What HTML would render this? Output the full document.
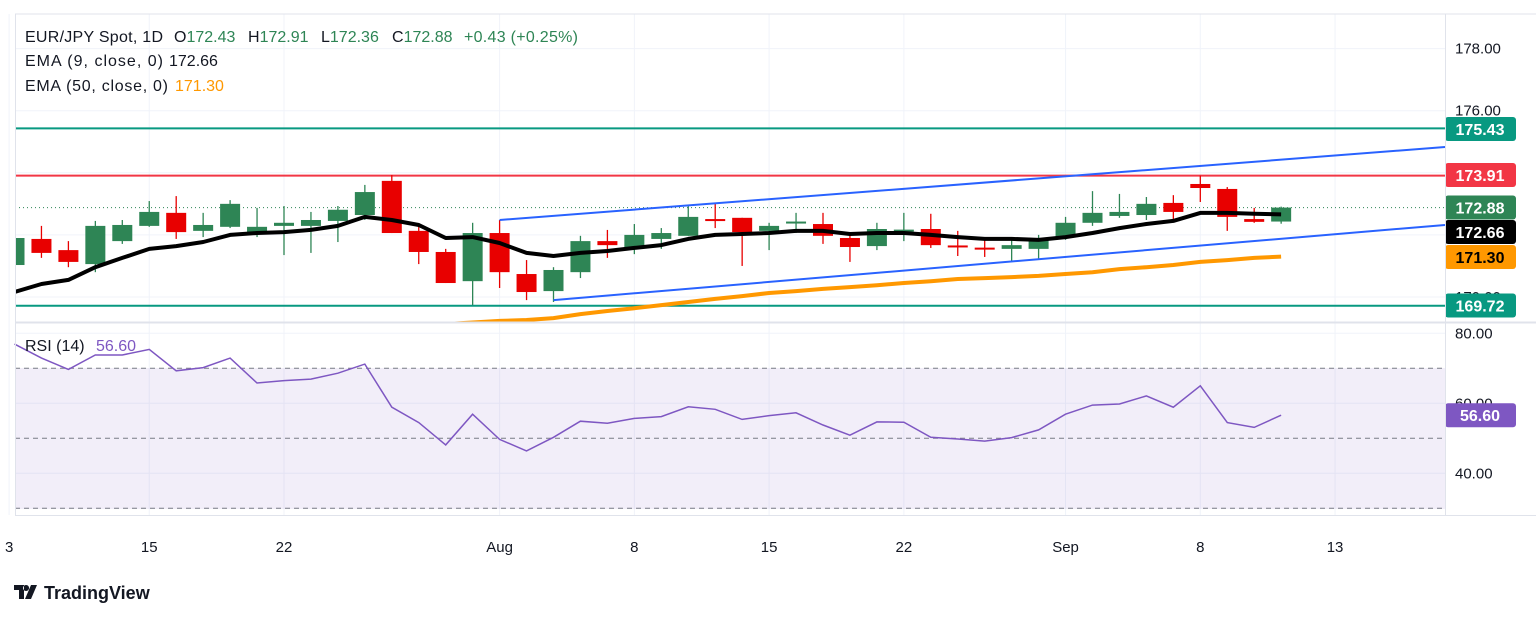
<!DOCTYPE html>
<html><head><meta charset="utf-8">
<style>
body{margin:0;background:#fff;font-family:"Liberation Sans",sans-serif;}
svg{display:block}
text{font-family:"Liberation Sans",sans-serif}
</style></head>
<body>
<svg id="c" width="1536" height="617" viewBox="0 0 1536 617">
<defs><clipPath id="pc"><rect x="16" y="14" width="1429" height="308"/></clipPath></defs>
<rect x="0" y="0" width="1536" height="617" fill="#fff"/>
<g id="grid"></g>
<rect x="15" y="368" width="1430" height="141" fill="#7e57c2" fill-opacity="0.1"/>
<g id="levels"></g>
<g id="candles" clip-path="url(#pc)"></g>
<g id="lines"></g>
<g id="rsi"></g>
<g id="axis"></g>
<line x1="15" y1="14" x2="1536" y2="14" stroke="#e0e3eb"/>
<line x1="15" y1="322.5" x2="1536" y2="322.5" stroke="#e0e3eb" stroke-width="2"/>
<line x1="15" y1="515.5" x2="1536" y2="515.5" stroke="#e0e3eb"/>
<line x1="1445.5" y1="14" x2="1445.5" y2="515" stroke="#e0e3eb"/>
<line x1="15.5" y1="14" x2="15.5" y2="515" stroke="#e0e3eb"/>
<g font-size="16">
<text y="42" fill="#131722"><tspan x="25" textLength="138">EUR/JPY Spot, 1D</tspan><tspan x="174">O</tspan><tspan fill="#2e8555">172.43</tspan><tspan x="248">H</tspan><tspan fill="#2e8555">172.91</tspan><tspan x="321">L</tspan><tspan fill="#2e8555">172.36</tspan><tspan x="392">C</tspan><tspan fill="#2e8555">172.88</tspan><tspan x="464" fill="#2e8555" textLength="114">+0.43 (+0.25%)</tspan></text>
<text y="66" fill="#131722"><tspan x="25" textLength="138">EMA (9, close, 0)</tspan><tspan x="169">172.66</tspan></text>
<text y="91" fill="#131722"><tspan x="25" textLength="143">EMA (50, close, 0)</tspan><tspan x="175" fill="#ff9800">171.30</tspan></text>
<text y="351" fill="#131722"><tspan x="25">RSI (14)</tspan><tspan x="96" fill="#7e57c2">56.60</tspan></text>
</g>
<g>
<path d="M14 585h10v14h-5v-9h-5z M26 585a3 3 0 1 0 .1 0z M31 585h6l-6 14h-6z" fill="#131722"/>
<text x="44" y="599" font-size="18" font-weight="bold" fill="#131722">TradingView</text>
</g>
</svg>
<script>
const opens=[171.03,171.87,171.51,171.06,171.80,172.29,172.71,172.13,172.26,172.09,172.29,172.29,172.45,172.64,173.74,172.13,171.45,170.51,172.06,170.74,170.19,170.80,171.80,171.61,171.87,171.97,172.51,172.55,172.13,172.41,172.35,171.90,171.64,172.15,172.19,171.66,171.59,171.55,171.55,171.93,172.39,172.61,172.64,173.03,173.64,173.48,172.51,172.43];
const highs=[172.00,172.29,171.80,172.45,172.48,173.09,173.25,172.71,173.12,172.87,172.93,172.74,172.93,173.61,173.93,172.32,171.55,172.39,172.48,171.19,170.96,171.97,172.16,172.35,172.22,172.93,173.03,172.55,172.39,172.71,172.71,172.06,172.39,172.71,172.68,172.13,171.93,171.84,172.00,172.58,173.41,173.32,173.22,173.28,173.91,173.54,172.87,172.91];
const lows=[170.96,171.26,170.96,170.80,171.71,172.26,171.87,171.93,172.22,171.93,171.35,171.42,171.77,172.48,172.06,171.06,170.45,169.74,170.29,169.90,169.84,170.61,171.26,171.38,171.55,171.97,172.22,171.00,171.51,172.06,171.71,171.13,171.51,171.80,171.58,171.32,171.29,171.16,171.22,171.84,172.29,172.55,172.48,172.51,173.06,172.13,172.39,172.36];
const closes=[171.90,171.42,171.13,172.29,172.32,172.74,172.09,172.32,173.00,172.26,172.39,172.48,172.81,173.38,172.06,171.45,170.45,172.06,170.80,170.16,170.87,171.80,171.67,172.00,172.06,172.58,172.48,172.09,172.29,172.43,171.97,171.61,172.19,172.17,171.67,171.63,171.57,171.67,171.90,172.39,172.71,172.74,173.00,172.74,173.51,172.58,172.42,172.88];
const ema9=[170.16,170.42,170.55,170.96,171.26,171.55,171.64,171.77,172.00,172.06,172.09,172.16,172.29,172.58,172.48,172.32,171.90,171.93,171.74,171.42,171.32,171.42,171.48,171.58,171.67,171.87,172.00,172.03,172.06,172.13,172.13,172.03,172.06,172.06,172.00,171.93,171.87,171.87,171.84,171.93,172.06,172.22,172.35,172.45,172.71,172.71,172.68,172.66];
const ema50=[null,null,null,null,null,null,null,null,null,null,null,null,null,null,null,null,169.13,169.18,169.23,169.26,169.32,169.45,169.55,169.64,169.74,169.84,169.94,170.03,170.13,170.19,170.26,170.32,170.38,170.45,170.51,170.58,170.61,170.64,170.68,170.74,170.80,170.90,170.96,171.03,171.13,171.19,171.26,171.30];
const rsi=[76.9,72.9,69.7,73.8,73.8,75.4,69.3,70.2,72.9,65.8,66.5,66.9,68.6,71.2,58.9,54.5,48.1,56.9,49.7,46.4,50.3,54.9,54.3,55.7,56.2,59.0,58.3,55.4,56.5,57.3,53.8,50.9,54.7,54.6,50.3,49.8,49.2,50.2,52.4,56.9,59.5,59.8,62.1,58.9,65.0,54.5,53.1,56.6];
const priceTicks=["178.00","176.00","174.00","172.00","170.00"];
const rsiTicks=["80.00","60.00","40.00"];
const dateLabels=["3","15","22","Aug","8","15","22","Sep","8","13"];
const dateIdx=[-0.2,5,10,18,23,28,33,39,44,49];
const levelVals=[175.43,173.91,169.72];
const levelColors=["#089981","#f23645","#089981"];

const NS="http://www.w3.org/2000/svg";
const xs=i=>14.5+26.95*i;
const yp=p=>48.6+(178-p)*31.05;
const yr=v=>368.3+(70-v)*3.5;
function mk(tag,attrs,parent){const e=document.createElementNS(NS,tag);for(const k in attrs)e.setAttribute(k,attrs[k]);parent.appendChild(e);return e;}
const G=id=>document.getElementById(id);

dateIdx.forEach((d,i)=>{
  const x=xs(d);
  const gl=mk('line',{x1:x,y1:14,x2:x,y2:515,stroke:'#f0f3fa'},G('grid'));
  
  
  const t=mk('text',{x:x,y:552,'font-size':15,fill:'#131722','text-anchor':'middle'},G('axis'));
  t.textContent=dateLabels[i];
  
  
});
priceTicks.forEach(s=>{
  const y=yp(parseFloat(s));
  const gl=mk('line',{x1:15,y1:y,x2:1445,y2:y,stroke:'#f0f3fa'},G('grid'));
  
  
  const t=mk('text',{x:1455,y:y+5,'font-size':15,fill:'#131722'},G('axis'));
  t.textContent=s;
  
  
});
rsiTicks.forEach(s=>{
  const y=yr(parseFloat(s));
  const gl=mk('line',{x1:15,y1:y,x2:1445,y2:y,stroke:'#f0f3fa'},G('grid'));
  
  
  const t=mk('text',{x:1455,y:y+5,'font-size':15,fill:'#131722'},G('axis'));
  t.textContent=s;
  
  
});
[70,50,30].forEach(v=>{
  const l=mk('line',{x1:15,y1:yr(v),x2:1445,y2:yr(v),stroke:'#787b86','stroke-dasharray':'5,4'},G('rsi'));
  
  
});
levelVals.forEach((v,i)=>{
  const l=mk('line',{x1:15,y1:yp(v),x2:1445,y2:yp(v),stroke:levelColors[i],'stroke-width':2},G('levels'));
  
  
});
const dl=mk('line',{x1:15,y1:yp(closes[closes.length-1]),x2:1445,y2:yp(closes[closes.length-1]),stroke:'#2e8555','stroke-dasharray':'1,3'},G('levels'));


const tl1=mk('line',{x1:xs(18),y1:yp(172.48),x2:1445,y2:yp(174.83),stroke:'#2962ff','stroke-width':2},G('lines'));


const tl2=mk('line',{x1:xs(20),y1:yp(169.90),x2:1445,y2:yp(172.32),stroke:'#2962ff','stroke-width':2},G('lines'));


opens.forEach((o,i)=>{
  const c=closes[i],up=c>=o,col=up?'#2e8555':'#e80000',x=xs(i);
  const g=mk('g',{},G('candles'));
  
  
  mk('line',{x1:x,y1:yp(highs[i]),x2:x,y2:yp(lows[i]),stroke:col,'stroke-width':1.3},g);
  const top=yp(Math.max(o,c)),h=Math.max(2,yp(Math.min(o,c))-top);
  mk('rect',{x:x-10,y:top,width:20,height:h,fill:col},g);
});
function path(arr,yf){let d='';arr.forEach((v,i)=>{if(v==null)return;d+=(d?'L':'M')+xs(i).toFixed(1)+','+yf(v).toFixed(1);});return d;}
const e50=mk('path',{d:path(ema50,yp),fill:'none',stroke:'#ff9800','stroke-width':4,'clip-path':'url(#pc)'},G('lines'));


const e9=mk('path',{d:path(ema9,yp),fill:'none',stroke:'#000','stroke-width':4,'clip-path':'url(#pc)','stroke-linejoin':'round'},G('lines'));


const rl=mk('path',{d:path(rsi,yr),fill:'none',stroke:'#7e57c2','stroke-width':1.5},G('rsi'));


const labels=[[175.43,'#089981','#fff',129],[173.91,'#f23645','#fff',175],[172.88,'#2e8555','#fff',207.5],[172.66,'#000','#fff',232],[171.30,'#ff9800','#000',257],[169.72,'#089981','#fff',305.5]];
labels.forEach(l=>{
  const g=mk('g',{},G('axis'));
  
  
  mk('rect',{x:1445,y:l[3]-12,width:71,height:24,rx:3,fill:l[1]},g);
  const t=mk('text',{x:1480,y:l[3]+6,'font-size':16,'font-weight':'bold',fill:l[2],'text-anchor':'middle'},g);
  t.textContent=l[0].toFixed(2);
});
const rg=mk('g',{},G('axis'));


mk('rect',{x:1445,y:yr(56.6)-12,width:71,height:24,rx:3,fill:'#7e57c2'},rg);
const rt=mk('text',{x:1480,y:yr(56.6)+6,'font-size':16,'font-weight':'bold',fill:'#fff','text-anchor':'middle'},rg);
rt.textContent=rsi[rsi.length-1].toFixed(2);
</script>
</body></html>
